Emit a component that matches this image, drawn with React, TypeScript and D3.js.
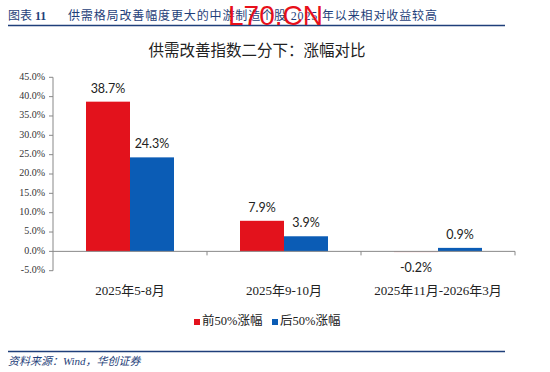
import * as d3 from 'd3';
import React from 'react';

const WIDTH = 550;
const HEIGHT = 372;

// data
const categories = ['2025年5-8月', '2025年9-10月', '2025年11月-2026年3月'];
const seriesNames = ['前50%涨幅', '后50%涨幅'];
const topHalf = [38.7, 7.9, -0.2];
const bottomHalf = [24.3, 3.9, 0.9];
const yTicks = [-5, 0, 5, 10, 15, 20, 25, 30, 35, 40, 45];

const COLORS = ['#E3121C', '#0B5CB5'];
const NAVY = '#1F3F7A';
const SERIF_CJK = '"Liberation Serif", "Noto Sans CJK SC", serif';
const LABEL_FONT = 'Lato, "Noto Sans", sans-serif';

const PLOT = { left: 53, right: 515, top: 77.3, bottom: 270.7 };

export default function App() {
  const yScale = d3.scaleLinear().domain([-5, 45]).range([PLOT.bottom, PLOT.top]);
  const xScale = d3.scaleBand().domain(categories).range([PLOT.left, PLOT.right]).padding(0);
  const innerScale = d3
    .scaleBand()
    .domain(seriesNames)
    .range([0, xScale.bandwidth()])
    .paddingInner(0)
    .paddingOuter(0.75);

  const values = [topHalf, bottomHalf];
  const y0 = yScale(0);

  // bars + data labels
  const bars = seriesNames.flatMap((s, si) =>
    categories.map((c, ci) => {
      const v = values[si][ci];
      const x = (xScale(c) ?? 0) + (innerScale(s) ?? 0);
      const yv = yScale(v);
      const w = innerScale.bandwidth();
      const neg = v < 0;
      return (
        <g key={`${si}-${ci}`}>
          <rect
            x={x}
            y={Math.min(yv, y0)}
            width={w}
            height={Math.max(Math.abs(y0 - yv), 0.8)}
            fill={COLORS[si]}
            opacity={neg ? 0.35 : 1}
          />
          <text
            x={x + w / 2}
            y={neg ? yv + 20 : yv - 9}
            textAnchor="middle"
            fontSize={12.5}
            fontFamily={LABEL_FONT}
            fill="#222"
          >
            {v.toFixed(1)}%
          </text>
        </g>
      );
    })
  );

  const yAxis = yTicks.map(t => (
    <g key={t}>
      <line x1={PLOT.left - 4} x2={PLOT.left} y1={yScale(t)} y2={yScale(t)} stroke="#888" />
      <text
        x={PLOT.left - 8}
        y={yScale(t)}
        dominantBaseline="middle"
        textAnchor="end"
        fontSize={10}
        fontFamily={SERIF_CJK}
        fill="#333"
      >
        {t.toFixed(1)}%
      </text>
    </g>
  ));

  const xTicks = categories.map(c => {
    const x = (xScale(c) ?? 0) + xScale.bandwidth();
    return <line key={c} x1={x} x2={x} y1={y0} y2={y0 + 4} stroke="#888" />;
  });

  const xLabels = categories.map(c => (
    <text
      key={c}
      x={(xScale(c) ?? 0) + xScale.bandwidth() / 2}
      y={295}
      textAnchor="middle"
      fontSize={13}
      fontFamily={SERIF_CJK}
      fill="#222"
    >
      {c}
    </text>
  ));

  const legendX = [194, 272];
  const legend = seriesNames.map((s, i) => (
    <g key={s} transform={`translate(${legendX[i]},322)`}>
      <rect x={0} y={-3} width={6} height={6} fill={COLORS[i]} />
      <text x={8} y={0} dominantBaseline="middle" fontSize={12.5} fontFamily={SERIF_CJK} fill="#222">
        {s}
      </text>
    </g>
  ));

  return (
    <svg
      width={WIDTH}
      height={HEIGHT}
      style={{ position: 'absolute', left: 0, top: 0, background: '#fff' }}
    >
      <rect width={WIDTH} height={HEIGHT} fill="#fff" />
      {/* header */}
      <text x={8} y={20} fontSize={12} fontFamily={SERIF_CJK} fill={NAVY}>
        图表 <tspan fontWeight="bold">11</tspan>
      </text>
      <text
        x={68}
        y={20}
        fontSize={12}
        fontFamily={SERIF_CJK}
        fill={NAVY}
        textLength={369}
        lengthAdjust="spacing"
      >
        供需格局改善幅度更大的中游制造个股 2025 年以来相对收益较高
      </text>
      <line x1={8} x2={505} y1={25.5} y2={25.5} stroke={NAVY} strokeWidth={1.5} />
      <text x={228} y={25} fontSize={28} fontFamily='"Liberation Sans", sans-serif' fill="#E8101A">
        L70.CN
      </text>

      {/* chart title */}
      <text x={257} y={56} textAnchor="middle" fontSize={15.5} fontFamily={SERIF_CJK} fill="#222">
        供需改善指数二分下：涨幅对比
      </text>

      <line x1={PLOT.left} x2={PLOT.left} y1={PLOT.top} y2={PLOT.bottom} stroke="#888" />
      {yAxis}
      {bars}
      <line x1={PLOT.left} x2={PLOT.right} y1={y0} y2={y0} stroke="#888" />
      {xTicks}
      {xLabels}
      {legend}

      {/* footer */}
      <line x1={8} x2={505} y1={351.5} y2={351.5} stroke={NAVY} strokeWidth={1.5} />
      <text x={8} y={365} fontSize={11} fontStyle="italic" fontFamily={SERIF_CJK} fill={NAVY}>
        资料来源：Wind，华创证券
      </text>
    </svg>
  );
}
